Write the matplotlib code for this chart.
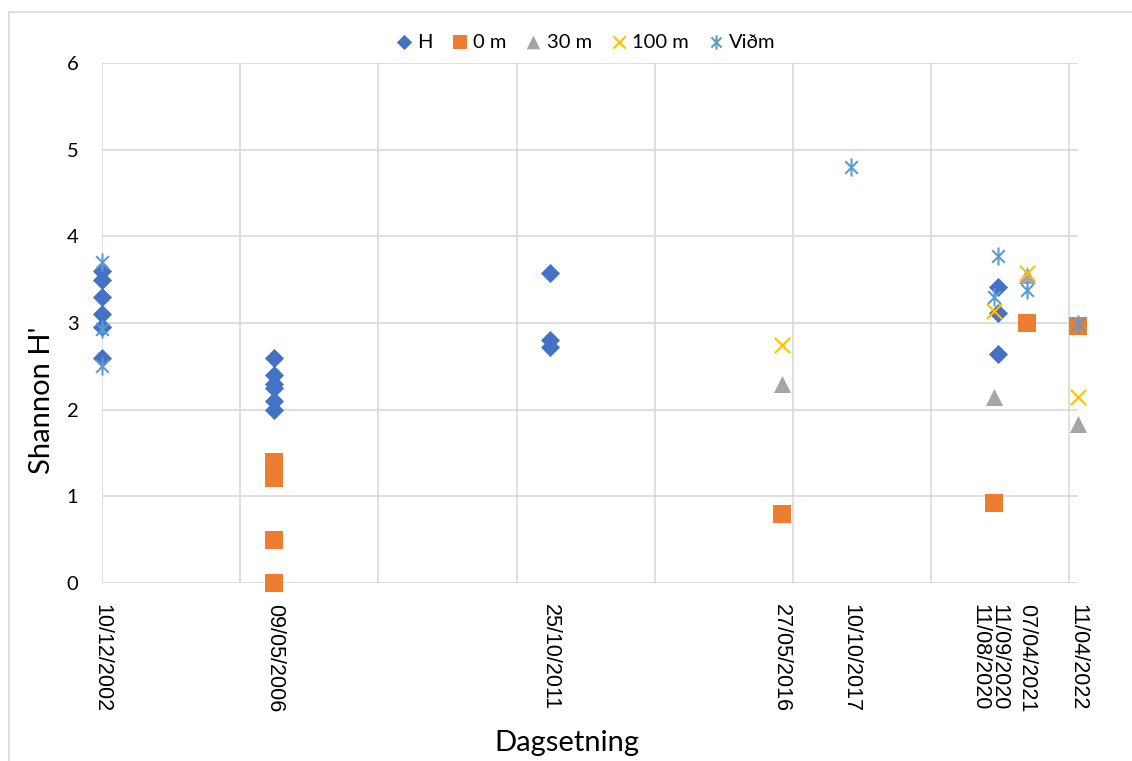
import matplotlib
matplotlib.use("Agg")
import matplotlib.pyplot as plt
import matplotlib.dates as mdates
from matplotlib.path import Path
from matplotlib.patches import Rectangle
import datetime as dt

plt.rcParams['font.family'] = ['Lato', 'DejaVu Sans']

def d(s):
    return dt.datetime.strptime(s, "%d/%m/%Y")

# Sampling dates shown on the x axis
tick_dates = ["10/12/2002", "09/05/2006", "25/10/2011", "27/05/2016",
              "10/10/2017", "11/08/2020", "11/09/2020", "07/04/2021", "11/04/2022"]

# Shannon diversity (H') per series: (date, value)
h_dates = ["10/12/2002"] * 6 + ["09/05/2006"] * 6 + ["25/10/2011"] * 3 + ["11/09/2020"] * 3
h_vals = [3.6, 3.5, 3.3, 3.1, 2.95, 2.6,
          2.6, 2.4, 2.3, 2.25, 2.1, 2.0,
          3.58, 2.8, 2.72,
          3.42, 3.12, 2.64]

m0_dates = ["09/05/2006"] * 4 + ["27/05/2016", "11/08/2020", "07/04/2021", "11/04/2022"]
m0_vals = [1.4, 1.21, 0.5, 0.0, 0.8, 0.92, 3.0, 2.97]

m30_dates = ["27/05/2016", "11/08/2020", "07/04/2021", "11/04/2022"]
m30_vals = [2.3, 2.15, 3.55, 1.83]

m100_dates = ["27/05/2016", "11/08/2020", "07/04/2021", "11/04/2022"]
m100_vals = [2.75, 3.14, 3.58, 2.15]

vid_dates = ["10/12/2002"] * 3 + ["10/10/2017", "11/08/2020", "11/09/2020", "07/04/2021", "11/04/2022"]
vid_vals = [3.7, 2.93, 2.5, 4.8, 3.3, 3.77, 3.38, 2.99]

# Star marker: vertical stroke with a diagonal cross
star = Path([(0, -1), (0, 1), (-0.7, -0.7), (0.7, 0.7), (-0.7, 0.7), (0.7, -0.7)],
            [Path.MOVETO, Path.LINETO, Path.MOVETO, Path.LINETO, Path.MOVETO, Path.LINETO])

W, H = 1132, 761
fig = plt.figure(figsize=(W / 100, H / 100), dpi=100)
ax = fig.add_axes([102 / W, 1 - 583 / H, (1078 - 102) / W, (583 - 63) / H])

# Outer chart frame
fig.patches.append(Rectangle((9 / W, -0.1), 1.2, 1 - 12 / H + 0.1,
                             transform=fig.transFigure, fill=False,
                             edgecolor="#d9d9d9", linewidth=1.2, zorder=0))

def dl(lst):
    return [d(s) for s in lst]

common = dict(zorder=3, clip_on=False)
ax.scatter(dl(h_dates), h_vals, marker="D", s=95, color="#4472C4", label="H", linewidths=0, **common)
ax.scatter(dl(m0_dates), m0_vals, marker="s", s=150, color="#ED7D31", label="0 m", linewidths=0, **common)
ax.scatter(dl(m30_dates), m30_vals, marker="^", s=150, color="#A5A5A5", label="30 m", linewidths=0, **common)
ax.scatter(dl(m100_dates), m100_vals, marker="x", s=120, color="#FFC000", label="100 m", linewidths=1.5, **common)
ax.scatter(dl(vid_dates), vid_vals, marker=star, s=170, color="#5B9BD5", label="Viðm", linewidths=1.5, **common)

x0 = d("10/12/2002")
x1 = d("11/04/2022")
ax.set_xlim(x0, x1)
ax.set_ylim(0, 6)

# Vertical gridlines every 1000 days from the first sample
grid_x = [x0 + dt.timedelta(days=1000 * k) for k in range(8)]
for gx in grid_x:
    ax.axvline(gx, color="#d9d9d9", linewidth=1.2, zorder=1)
ax.set_yticks(range(0, 7))
ax.yaxis.grid(True, color="#d9d9d9", linewidth=1.2, zorder=1)
ax.set_axisbelow(True)
ax.tick_params(axis="y", length=0, pad=17, labelsize=14.5)

# Date labels under the axis, written top-to-bottom; the two close
# August/September 2020 labels are nudged apart so both stay readable
ax.set_xticks([])
shifts = {"11/08/2020": -10.0, "11/09/2020": 0.5}
for s in tick_dates:
    ax.annotate(s, xy=(mdates.date2num(d(s)), 0), xycoords=("data", "axes fraction"),
                xytext=(shifts.get(s, 0.0), -15), textcoords="offset points",
                rotation=-90, ha="center", va="top", family="Liberation Sans",
                fontsize=15.5, annotation_clip=False)

for sp in ax.spines.values():
    sp.set_visible(False)

fig.text(42 / W, 1 - 400 / H, "Shannon H'", rotation=90, ha="center", va="center", fontsize=21)
fig.text(567 / W, 1 - 743 / H, "Dagsetning", ha="center", va="center", fontsize=21)

ax.legend(loc="center", bbox_to_anchor=(0.493, 1.040), ncol=5, frameon=False,
          fontsize=14.5, handletextpad=0.0, columnspacing=0.7, markerscale=0.8,
          handlelength=1.3)

fig.savefig("out.png", dpi=100)
